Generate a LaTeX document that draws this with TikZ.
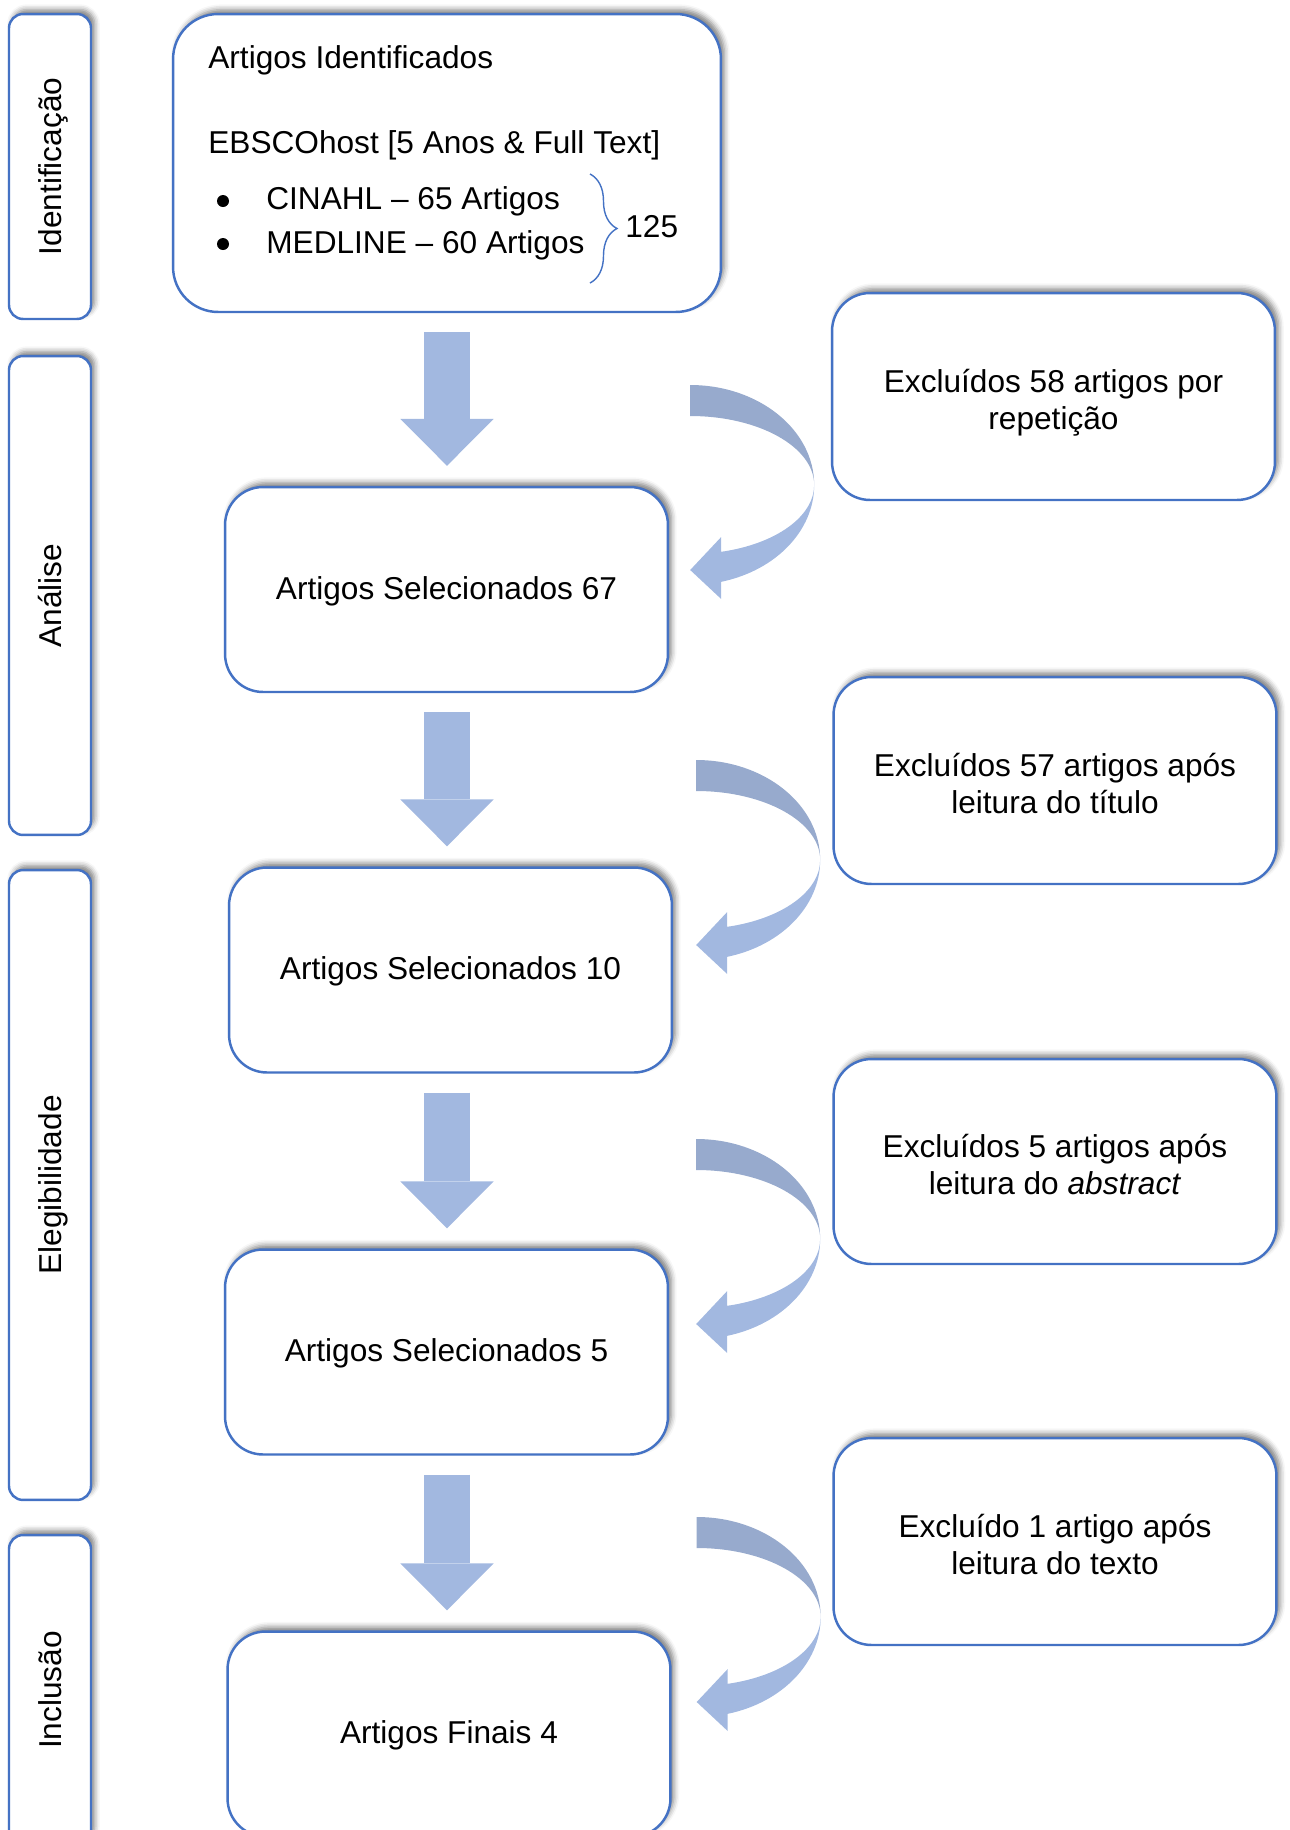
\documentclass[tikz,border=0pt]{standalone}
\usepackage{fontspec}
\setmainfont{Liberation Sans}
\usepackage{graphicx}
\usepackage{tikz}
\usetikzlibrary{arrows.meta}
\usetikzlibrary{shadows.blur}
\usetikzlibrary{decorations.pathreplacing}

\definecolor{boxblue}{HTML}{4472C4}
\definecolor{arrowblue}{HTML}{A2B8E0}
\definecolor{backblue}{HTML}{97AACD}

\newcommand\txtstrut{\rule[-0.2em]{0pt}{1.02em}}
\newcommand\headstrut{\rule{0pt}{1.12em}}
\newcommand\phasetxt[1]{\rotatebox{90}{\rule[-0.2em]{0pt}{1.14em}#1}}

\tikzset{
    curvarr/.pic={
        \fill[backblue] (0,185) arc[start angle=90, end angle=0, x radius=124, y radius=100]
            arc[start angle=0, end angle=90, x radius=124, y radius=69] -- cycle;
        \fill[arrowblue] (124,85) arc[start angle=0, end angle=-75.5, x radius=124, y radius=100]
            -- (31,-29) -- (0,0) -- (31,33) -- (31,18.2)
            arc[start angle=-75.5, end angle=0, x radius=124, y radius=69] -- cycle;
    }
}

\begin{document}
\begin{tikzpicture}[
    x=0.02cm, y=0.02cm,
    every node/.style={font=\fontsize{18}{21}\selectfont, inner sep=0pt},
    box/.style={draw=boxblue, line width=1.4pt, fill=white, rounded corners=0.76cm,
        blur shadow={shadow xshift=2pt, shadow yshift=2.5pt, shadow blur radius=3pt, shadow opacity=50}},
    stepbox/.style={box, minimum width=8.86cm, minimum height=4.1cm, align=center},
    phase/.style={box, rounded corners=0.28cm, minimum width=1.64cm},
    downarr/.style={arrowblue, line width=0.93cm, shorten <=0.38cm, shorten >=0.4cm,
        -{Triangle[length=0.94cm, width=1.87cm, line width'=0pt]}}
]
    \useasboundingbox (0,0) rectangle (1290,-1830);
    \clip (0,0) rectangle (1290,-1830);

    % Nodes
    \node[phase, minimum height=6.1cm] (f1) at (50,-166.5) {\phasetxt{Identificação}};
    \node[phase, minimum height=9.58cm] (f2) at (50,-595.5) {\phasetxt{Análise}};
    \node[phase, minimum height=12.6cm] (f3) at (50,-1185) {\phasetxt{Elegibilidade}};
    \node[phase, minimum height=6.2cm] (f4) at (50,-1690) {\phasetxt{Inclusão}};

    \node[box, minimum width=10.96cm, minimum height=5.96cm, rounded corners=0.9cm] (1) at (447,-163) {};
    \node[stepbox] (2) at (446.5,-589.5) {\txtstrut Artigos Selecionados 67};
    \node[stepbox] (3) at (450.5,-970) {\txtstrut Artigos Selecionados 10};
    \node[stepbox] (4) at (446.5,-1352) {\txtstrut Artigos Selecionados 5};
    \node[stepbox] (5) at (449,-1734) {\txtstrut Artigos Finais 4};

    \node[stepbox, minimum height=4.14cm] (e1) at (1053.5,-396.5)
        {\headstrut Excluídos 58 artigos por\\repetição\txtstrut};
    \node[stepbox, minimum height=4.14cm] (e2) at (1055,-780.5)
        {\headstrut Excluídos 57 artigos após\\leitura do título\txtstrut};
    \node[stepbox] (e3) at (1055,-1161.5)
        {\headstrut Excluídos 5 artigos após\\leitura do \textit{abstract}\txtstrut};
    \node[stepbox, minimum height=4.14cm] (e4) at (1055,-1541.5)
        {\headstrut Excluído 1 artigo após\\leitura do texto\txtstrut};

    % Text of the first box
    \node[anchor=base west] (t1) at (208,-68) {Artigos Identificados};
    \node[anchor=base west] (t2) at (208,-153) {EBSCOhost [5 Anos \& Full Text]};
    \node[anchor=base west] (t3) at (266,-209) {CINAHL – 65 Artigos};
    \node[anchor=base west] (t4) at (266,-253) {MEDLINE – 60 Artigos};
    \fill ([shift={(-43,8)}]t3.base west) circle[radius=6];
    \fill ([shift={(-43,9)}]t4.base west) circle[radius=6];
    \draw[boxblue, line width=0.8pt, decorate, decoration={brace, amplitude=0.54cm}]
        (590,-174) -- (590,-283);
    \node[anchor=base west] (t5) at (625,-237) {125};

    % Edges
    \draw[downarr] (1.south -| 1) -- (1 |- 2.north);
    \draw[downarr] (2.south -| 1) -- (1 |- 3.north);
    \draw[downarr] (3.south -| 1) -- (1 |- 4.north);
    \draw[downarr] (4.south -| 1) -- (1 |- 5.north);

    \pic at ([shift={(21,19.5)}]2.east) {curvarr};
    \pic at ([shift={(23,25)}]3.east) {curvarr};
    \pic at ([shift={(27,28)}]4.east) {curvarr};
    \pic at ([shift={(25,32)}]5.east) {curvarr};
\end{tikzpicture}
\end{document}
